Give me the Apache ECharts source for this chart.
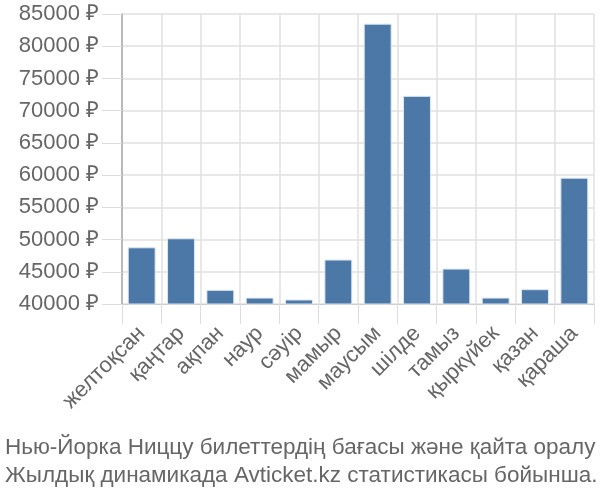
<!DOCTYPE html>
<html><head><meta charset="utf-8">
<script src="https://cdn.jsdelivr.net/npm/echarts@6/dist/echarts.min.js"></script>
<style>html,body{margin:0;padding:0;background:#fff}#c{width:600px;height:500px}</style>
</head><body><div id="c"></div>
<script>
const months = ['желтоқсан','қаңтар','ақпан','наур','сәуір','мамыр','маусым','шілде','тамыз','қыркүйек','қазан','қараша'];
const prices = [48800, 50200, 42200, 41000, 40700, 46900, 83500, 72300, 45500, 41000, 42300, 59600];
const yMin = 40000, yMax = 85000, yStep = 5000;
const captionLines = ['Нью-Йорка Ниццу билеттердің бағасы және қайта оралу','Жылдық динамикада Avticket.kz статистикасы бойынша.'];
const font = "'Liberation Sans', Arial, sans-serif";
const chart = echarts.init(document.getElementById('c'), null, {renderer:'canvas'});
chart.setOption({
  animation:false,
  title:{text:captionLines.join('\n'), left:0, top:429, textStyle:{fontFamily:font, fontSize:22.5, fontWeight:'normal', color:'#666', lineHeight:28}},
  grid:{left:122, right:6, top:14, bottom:196, containLabel:false},
  xAxis:{type:'category', data:months,
    axisLine:{show:true, lineStyle:{color:'#ccc', width:1}},
    axisTick:{show:true, length:20, lineStyle:{color:'#ddd'}},
    splitLine:{show:true, lineStyle:{color:'#e0e0e0', width:1.5}},
    axisLabel:{rotate:45, margin:26, interval:0, fontFamily:font, fontSize:22, color:'#666'}},
  yAxis:{type:'value', min:yMin, max:yMax, interval:yStep,
    axisLine:{show:true, lineStyle:{color:'#aaa', width:1.5}},
    axisTick:{show:true, length:20, lineStyle:{color:'#ddd'}},
    splitLine:{show:true, lineStyle:{color:'#e0e0e0', width:1.5}},
    axisLabel:{margin:23, fontFamily:font, fontSize:22, color:'#666', formatter:v=>v+' ₽'}},
  series:[{type:'bar', data:prices, barCategoryGap:'29%',
    itemStyle:{color:'#4c78a8', borderColor:'#dde6f0', borderWidth:1}}]
});
</script></body></html>
